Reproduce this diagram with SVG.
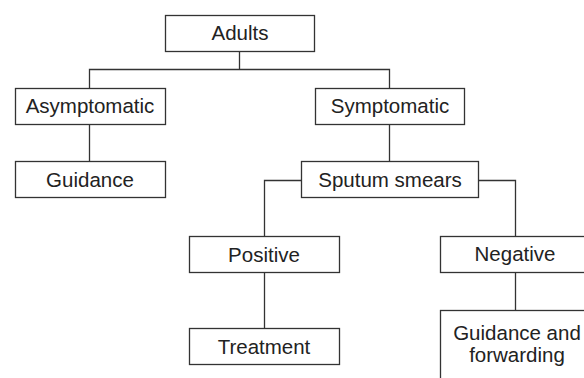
<svg xmlns="http://www.w3.org/2000/svg" width="584" height="378" viewBox="0 0 584 378">
<style>
.box{fill:#fff;stroke:#333;stroke-width:1.3}
.ln{fill:none;stroke:#333;stroke-width:1.3}
text{font-family:"Liberation Sans",Arial,sans-serif;font-size:20.5px;fill:#222;text-anchor:middle}
</style>
<rect width="584" height="378" fill="#fff"/>
<g id="connectors">
<path class="ln" d="M239.5 51V69.5M89.5 88V69.5H389.5V88"/>
<path class="ln" d="M89.5 124V161"/>
<path class="ln" d="M389.5 124V161"/>
<path class="ln" d="M301 180.5H264.5V236M478 180.5H515.5V236"/>
<path class="ln" d="M264.5 273V328"/>
<path class="ln" d="M515.5 273V310"/>
</g>
<g id="adults"><rect class="box" x="165.5" y="15.5" width="149" height="36"/><text x="240" y="40">Adults</text></g>
<g id="asymptomatic"><rect class="box" x="15.5" y="88.5" width="150" height="36"/><text x="90" y="113">Asymptomatic</text></g>
<g id="guidance"><rect class="box" x="15.5" y="161.5" width="150" height="36"/><text x="90" y="187">Guidance</text></g>
<g id="symptomatic"><rect class="box" x="315.5" y="88.5" width="149" height="36"/><text x="390" y="113">Symptomatic</text></g>
<g id="sputum"><rect class="box" x="301.5" y="161.5" width="177" height="36"/><text x="390" y="187">Sputum smears</text></g>
<g id="positive"><rect class="box" x="189.5" y="236.5" width="150" height="36"/><text x="264" y="262">Positive</text></g>
<g id="treatment"><rect class="box" x="189.5" y="328.5" width="150" height="36"/><text x="264" y="354">Treatment</text></g>
<g id="negative"><rect class="box" x="440.5" y="236.5" width="150" height="36"/><text x="515" y="261">Negative</text></g>
<g id="guidance-forwarding"><rect class="box" x="440.5" y="310.5" width="150" height="80"/><text x="517" y="340">Guidance and</text><text x="517" y="362">forwarding</text></g>
</svg>
